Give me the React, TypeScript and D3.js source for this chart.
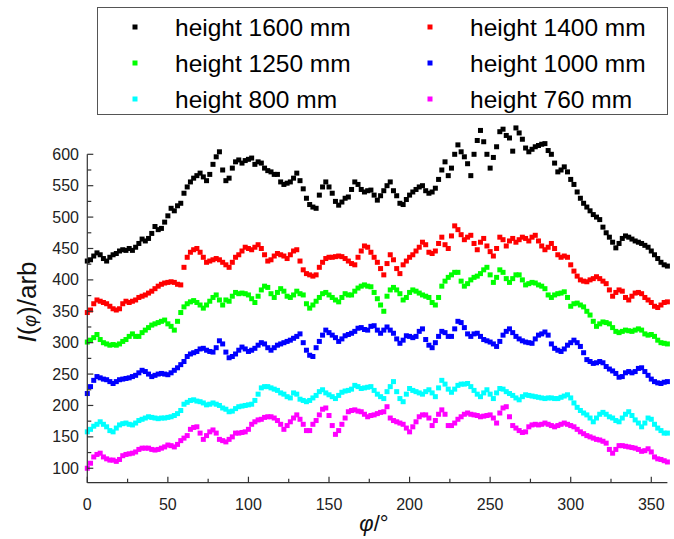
import * as d3 from 'd3'

// sampled every 2 degrees, 0..360
const PHI_STEP = 2

const h1600 = [
  430, 432, 438, 443, 440, 434, 430, 436, 440, 442,
  446, 448, 447, 450, 447, 452, 458, 465, 462, 466,
  474, 485, 480, 482, 492, 502, 514, 510, 518, 522,
  538, 548, 556, 562, 566, 570, 564, 558, 568, 584,
  596, 604, 575, 558, 562, 578, 588, 591, 586, 590,
  592, 594, 584, 588, 586, 578, 574, 572, 568, 568,
  556, 552, 554, 556, 562, 570, 558, 545, 530, 520,
  516, 514, 535, 548, 556, 548, 538, 525, 519, 524,
  530, 532, 544, 556, 552, 544, 540, 542, 543, 535,
  527, 534, 542, 550, 556, 542, 534, 522, 520, 528,
  535, 540, 544, 548, 550, 542, 538, 540, 546, 560,
  575, 588, 566, 578, 600, 615, 604, 596, 585, 566,
  600, 622, 638, 620, 600, 578, 595, 612, 636, 640,
  630, 626, 605, 642, 634, 624, 610, 604, 608, 612,
  614, 616, 617, 606, 600, 586, 572, 575, 580, 572,
  560, 552, 540, 530, 522, 516, 510, 504, 500, 496,
  484, 475, 468, 460, 451, 458, 466, 470, 468, 465,
  462, 460, 458, 455, 452, 446, 440, 434, 428, 424,
  422,
]

const h1400 = [
  348, 352, 362, 368, 366, 364, 362, 358, 354, 352,
  354, 362, 366, 364, 366, 368, 372, 374, 376, 379,
  382, 386, 390, 393, 395, 396, 397, 396, 393, 392,
  420, 436, 444, 448, 450, 444, 436, 428, 430, 432,
  434, 432, 428, 424, 420, 428, 436, 440, 446, 452,
  450, 448, 452, 456, 450, 440, 430, 432, 438, 442,
  440, 438, 434, 440, 446, 448, 430, 416, 410, 408,
  406, 408, 420, 428, 434, 436, 436, 437, 438, 437,
  434, 430, 426, 424, 436, 446, 454, 452, 444, 436,
  428, 418, 408, 426, 440, 432, 418, 410, 424, 430,
  436, 440, 446, 452, 460, 456, 444, 442, 446, 458,
  468, 456, 450, 470, 486, 480, 472, 464, 468, 471,
  458, 448, 460, 466, 454, 445, 438, 450, 468, 464,
  454, 462, 466, 460, 464, 468, 466, 462, 468, 471,
  462, 454, 448, 452, 458, 450, 440, 436, 438, 436,
  424, 414, 406, 400, 398, 397, 400, 402, 405, 402,
  398, 394, 384, 374, 380, 384, 382, 372, 368, 374,
  379, 380, 378, 372, 368, 364, 358, 356, 360, 364,
  365,
]

const h1250 = [
  301, 304, 308, 313, 305, 300, 298, 296, 297, 296,
  298, 302, 305, 310, 314, 310, 310, 316, 320, 324,
  328, 330, 332, 334, 336, 330, 326, 320, 334, 348,
  357, 362, 365, 367, 364, 360, 355, 360, 366, 372,
  376, 368, 360, 368, 366, 374, 380, 378, 379, 378,
  376, 370, 364, 374, 384, 390, 388, 378, 372, 380,
  386, 382, 374, 372, 376, 382, 378, 376, 362, 355,
  360, 366, 372, 378, 380, 376, 372, 368, 365, 372,
  378, 376, 376, 382, 387, 390, 392, 390, 389, 380,
  370, 360, 350, 374, 384, 388, 384, 378, 368, 372,
  380, 384, 382, 379, 376, 374, 372, 364, 360, 372,
  390, 398, 404, 408, 412, 412, 398, 390, 394, 400,
  404, 406, 410, 416, 420, 408, 396, 404, 416, 412,
  402, 396, 402, 408, 408, 400, 392, 394, 396, 395,
  392, 390, 386, 376, 372, 376, 378, 379, 381, 372,
  358, 362, 363, 360, 357, 350, 344, 334, 326, 330,
  333, 332, 330, 324, 318, 316, 318, 320, 319, 318,
  320, 322, 320, 314, 312, 313, 310, 304, 300, 299,
  298,
]

const h1000 = [
  219, 230, 240, 246, 244, 242, 241, 238, 235, 238,
  241, 242, 243, 244, 246, 248, 252, 256, 254, 250,
  246, 248, 250, 251, 250, 249, 252, 256, 260, 265,
  270, 278, 282, 284, 286, 290, 291, 288, 286, 285,
  292, 303, 298, 285, 276, 278, 282, 288, 293, 290,
  286, 288, 291, 296, 300, 298, 292, 288, 292, 296,
  298, 300, 302, 304, 307, 310, 314, 300, 288, 280,
  278, 292, 302, 312, 320, 316, 312, 308, 302, 306,
  311, 313, 315, 318, 323, 324, 321, 320, 326, 327,
  320, 315, 320, 325, 320, 315, 306, 299, 304, 311,
  310, 308, 310, 318, 322, 305, 296, 292, 300, 310,
  318, 316, 310, 310, 322, 334, 332, 324, 314, 310,
  314, 315, 310, 305, 303, 301, 298, 294, 302, 312,
  318, 322, 316, 310, 306, 303, 301, 300, 299, 306,
  312, 314, 317, 312, 298, 291, 288, 286, 290, 296,
  300, 304, 300, 294, 284, 273, 270, 267, 268, 270,
  268, 262, 258, 255, 251, 245, 246, 252, 254, 252,
  254, 259, 260, 254, 248, 242, 238, 236, 235, 237,
  238,
]

const h800 = [
  158, 162, 167, 170, 174, 170, 166, 160, 158, 164,
  169, 171, 172, 170, 169, 172, 176, 178, 180, 182,
  181, 180, 179, 180, 180, 181, 182, 184, 187, 192,
  202, 205, 208, 209, 207, 206, 204, 201, 202, 204,
  202, 200, 196, 194, 190, 191, 195, 198, 199, 200,
  201, 202, 208, 218, 228, 230, 230, 228, 226, 224,
  220, 218, 214, 212, 220, 218, 210, 208, 206, 208,
  212, 216, 222, 225, 220, 217, 214, 211, 216, 221,
  223, 224, 226, 232, 230, 227, 228, 229, 230, 224,
  218, 214, 211, 222, 230, 238, 222, 211, 206, 218,
  227, 224, 222, 220, 218, 222, 225, 220, 214, 228,
  240, 234, 226, 221, 226, 232, 234, 234, 235, 230,
  224, 218, 214, 220, 225, 218, 211, 220, 227, 226,
  222, 219, 216, 212, 209, 214, 217, 216, 215, 214,
  213, 212, 211, 212, 212, 211, 211, 213, 215, 217,
  212, 204, 197, 192, 188, 185, 180, 174, 180, 186,
  189, 186, 182, 180, 176, 174, 180, 186, 190, 184,
  177, 172, 166, 172, 180, 178, 170, 164, 160, 156,
  156,
]

const h760 = [
  100, 108, 118, 122, 124, 118, 115, 113, 113, 111,
  114, 120, 122, 123, 124, 126, 130, 132, 132, 132,
  130, 129, 130, 132, 134, 137, 136, 134, 138, 144,
  148, 152, 162, 165, 166, 156, 146, 152, 158, 161,
  156, 146, 144, 142, 146, 150, 156, 156, 157, 158,
  162, 170, 174, 177, 178, 181, 182, 182, 180, 176,
  170, 162, 168, 174, 180, 185, 178, 170, 160, 160,
  170, 176, 185, 194, 196, 184, 168, 154, 160, 170,
  180, 190, 192, 193, 191, 190, 186, 182, 184, 185,
  187, 189, 190, 198, 180, 176, 174, 172, 170, 164,
  158, 166, 174, 182, 185, 185, 180, 168, 176, 186,
  193, 186, 168, 168, 172, 178, 182, 186, 188, 186,
  185, 184, 182, 183, 184, 185, 180, 172, 188, 196,
  198, 182, 168, 164, 160, 157, 158, 166, 169, 170,
  169, 170, 172, 170, 168, 166, 168, 170, 172, 170,
  168, 166, 162, 158, 155, 152, 150, 148, 146, 145,
  143, 140, 130, 124, 130, 136, 136, 135, 134, 133,
  132, 130, 127, 128, 131, 126, 118, 115, 114, 112,
  110,
]

const seriesNames = ['height 1600 mm', 'height 1400 mm', 'height 1250 mm', 'height 1000 mm', 'height 800 mm', 'height 760 mm']
const seriesColors = ['#000000', '#ff0000', '#00ff00', '#0000ff', '#00ffff', '#ff00ff']
const seriesValues = [h1600, h1400, h1250, h1000, h800, h760]

const xTicks = [0, 50, 100, 150, 200, 250, 300, 350]
const xMinor = [25, 75, 125, 175, 225, 275, 325]
const yTicks = [100, 150, 200, 250, 300, 350, 400, 450, 500, 550, 600]
const yMinor = [125, 175, 225, 275, 325, 375, 425, 475, 525, 575]

const W = 674
const H = 539

export default function App() {
  const x = d3.scaleLinear().domain([0, 360]).range([87.3, 667.4])
  const y = d3.scaleLinear().domain([77, 600]).range([482.7, 154.3])
  const axisColor = '#333'
  const font = 'Arial, "Liberation Sans", sans-serif'
  const ms = 5 // marker size

  // legend layout: 2 columns x 3 rows
  const legendX = [135, 430]
  const legendY = [27, 63, 99]

  return (
    <svg width={W} height={H} style={{ position: 'absolute', left: 0, top: 0, background: '#fff' }} fontFamily={font}>
      <rect x={0} y={0} width={W} height={H} fill="#fff" />

      {/* points */}
      {seriesValues.map((vals, s) => (
        <g key={s} fill={seriesColors[s]}>
          {vals.map((v, i) => (
            <rect key={i} x={x(i * PHI_STEP) - ms / 2} y={y(v) - ms / 2} width={ms} height={ms} />
          ))}
        </g>
      ))}

      {/* axes */}
      <g stroke={axisColor} strokeWidth={1.2} fill="none">
        <line x1={x(0)} x2={x(0)} y1={y(600)} y2={y(77)} />
        <line x1={x(0)} x2={x(360)} y1={y(77)} y2={y(77)} />
        {yTicks.map(t => <line key={'ym' + t} x1={x(0)} x2={x(0) + 6} y1={y(t)} y2={y(t)} />)}
        {yMinor.map(t => <line key={'yn' + t} x1={x(0)} x2={x(0) + 4} y1={y(t)} y2={y(t)} />)}
        {xTicks.map(t => <line key={'xm' + t} x1={x(t)} x2={x(t)} y1={y(77)} y2={y(77) - 6} />)}
        {xMinor.map(t => <line key={'xn' + t} x1={x(t)} x2={x(t)} y1={y(77)} y2={y(77) - 4} />)}
      </g>

      <g fill="#222" fontSize={16}>
        {yTicks.map(t => (
          <text key={t} x={79} y={y(t)} dy="0.35em" textAnchor="end">{t}</text>
        ))}
        {xTicks.map(t => (
          <text key={t} x={x(t)} y={510} textAnchor="middle">{t}</text>
        ))}
      </g>

      {/* axis titles */}
      <text transform="translate(36,302) rotate(-90)" textAnchor="middle" fontSize={26} fill="#111">
        <tspan fontStyle="italic">I</tspan>(<tspan fontStyle="italic" fontSize={18}>φ</tspan>)/arb
      </text>
      <text x={374} y={531} textAnchor="middle" fontSize={22} fill="#111">
        <tspan fontStyle="italic">φ</tspan>/°
      </text>

      {/* legend */}
      <rect x={97.5} y={7.5} width={570} height={107} fill="#fff" stroke="#555" strokeWidth={1} />
      {seriesNames.map((name, i) => {
        const col = i % 2
        const row = Math.floor(i / 2)
        return (
          <g key={name}>
            <rect x={legendX[col] - 2.5} y={legendY[row] - 2.5} width={5} height={5} fill={seriesColors[i]} />
            <text x={legendX[col] + 40} y={legendY[row]} dy="0.35em" fontSize={24.5} fill="#000">{name}</text>
          </g>
        )
      })}
    </svg>
  )
}
